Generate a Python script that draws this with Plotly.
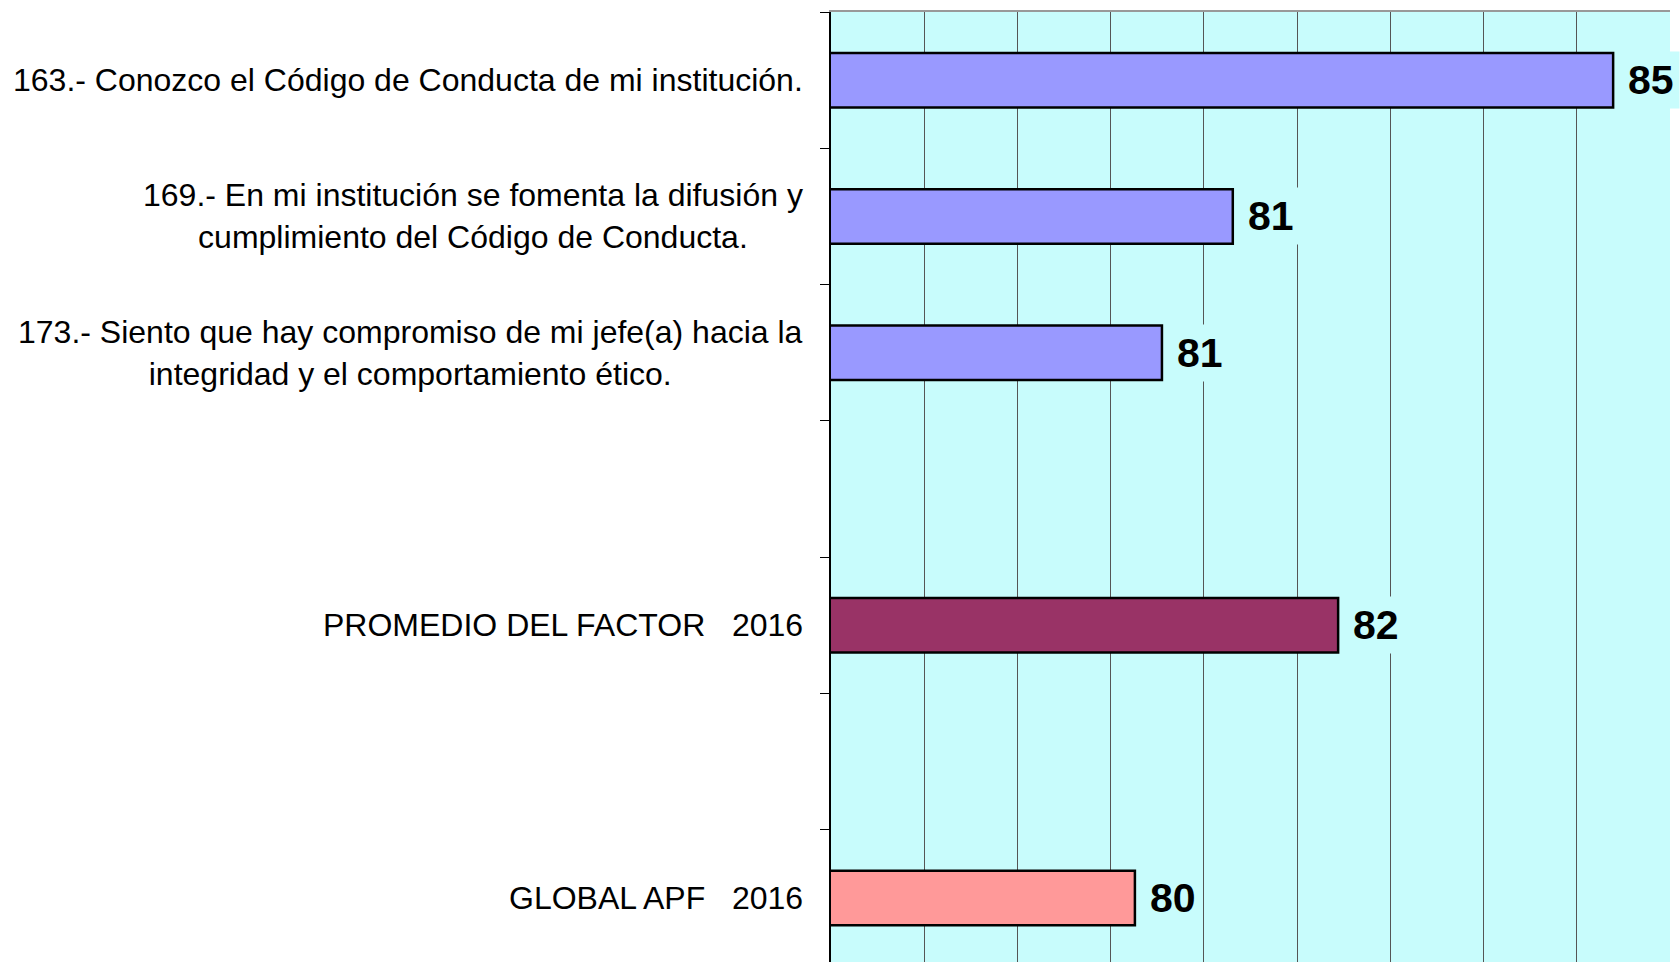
import pandas as pd
import plotly.graph_objects as go

# %%%%%%%%%% data %%%%%%%%%%
# blank strings are spacer rows between the groups
categories = [
    "163.- Conozco el Código de Conducta de mi institución.",
    "169.- En mi institución se fomenta la difusión y<br>cumplimiento del Código de Conducta.",
    "173.- Siento que hay compromiso de mi jefe(a) hacia la<br>integridad y el comportamiento ético.",
    " ",
    "PROMEDIO DEL FACTOR   2016",
    "  ",
    "GLOBAL APF   2016",
]
scores = [85.39, 81.31, 80.55, None, 82.44, None, 80.26]
bar_colors = ["#9999FF", "#9999FF", "#9999FF", "#9999FF", "#993366", "#993366", "#FF9999"]

x_min, x_max = 77, 86

df = pd.DataFrame({"item": categories, "score": scores, "color": bar_colors})

FONT = "Liberation Sans, Arial, sans-serif"
BG = "#C8FCFC"

# %%%%%%%%%% bar plot
fig = go.Figure()
fig.add_trace(go.Bar(
    x=df["score"],
    y=df["item"],
    orientation="h",
    marker=dict(color=df["color"], line=dict(color="black", width=2.5)),
    hoverinfo="x+y",
))

# category labels on the left (lines centred, block right aligned)
for item in df["item"]:
    if item.strip() == "":
        continue
    fig.add_annotation(
        x=0, xref="paper", y=item, yref="y",
        text=item, showarrow=False,
        xanchor="right", yanchor="middle", align="center", xshift=-26,
        font=dict(family=FONT, size=32, color="black"),
    )

# value labels, with a box of background colour that hides the grid
for item, v in zip(df["item"], df["score"]):
    if v is None or pd.isna(v):
        continue
    fig.add_annotation(
        x=v, y=item, text=f"<b>{v:.0f}</b>", showarrow=False,
        xanchor="left", yanchor="middle", xshift=9,
        bgcolor=BG, borderpad=5,
        font=dict(family=FONT, size=41, color="black"),
    )

fig.update_layout(
    width=1680,
    height=962,
    margin=dict(l=831, r=10, t=12, b=0),
    plot_bgcolor=BG,
    paper_bgcolor="white",
    bargap=0.6,
    showlegend=False,
    font=dict(family=FONT, size=30, color="black"),
)
fig.update_xaxes(
    range=[x_min, x_max], dtick=1, showticklabels=False, ticks="",
    showgrid=True, gridcolor="#555555", gridwidth=1, zeroline=False,
    showline=True, linecolor="#999999", linewidth=2, mirror=True,
)
fig.update_yaxes(
    type="category", categoryorder="array", categoryarray=categories,
    range=[len(categories) - 0.53, -0.5],
    showticklabels=False, showgrid=False,
    ticks="outside", tickson="boundaries", ticklen=9, tickcolor="black", tickwidth=1,
    showline=True, linecolor="black", linewidth=2,
)

# drop the default page margin so the figure sits at the window corner
fig.write_html(
    "out.html",
    config={"displayModeBar": False},
    post_script="document.body.style.margin='0';",
)
